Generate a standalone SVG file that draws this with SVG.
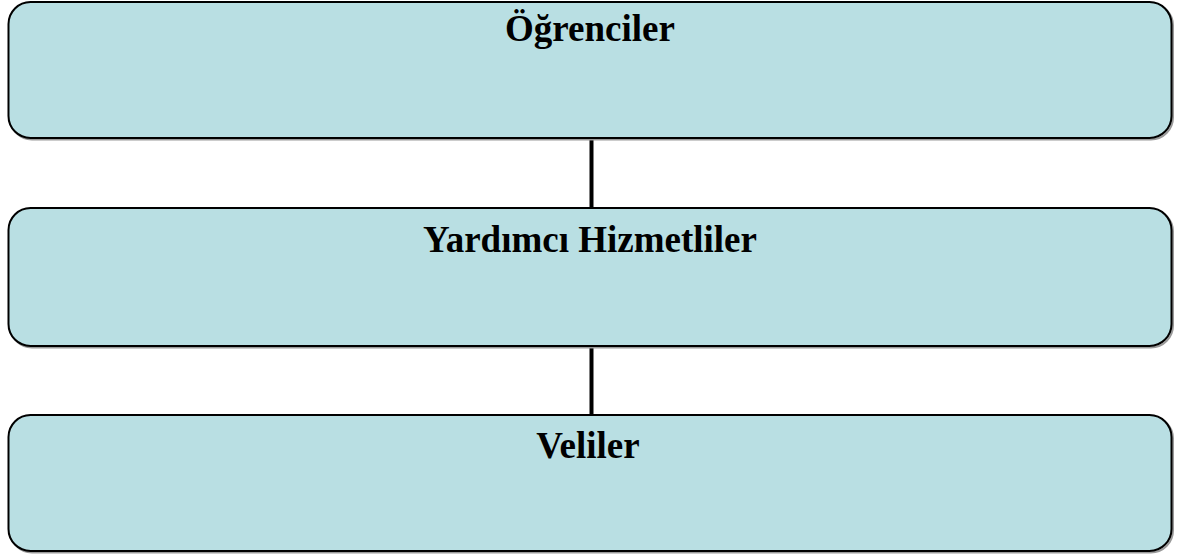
<svg xmlns="http://www.w3.org/2000/svg" width="1177" height="555" viewBox="0 0 1177 555">
<style>
.shadow{fill:none;stroke:#9a9a9a;stroke-width:2}
.box{fill:#B9DFE3;stroke:#000;stroke-width:2}
.lbl{font-family:"Liberation Serif","Times New Roman",serif;font-weight:bold;font-size:37px;fill:#000;text-anchor:middle}
.conn{stroke:#000;stroke-width:4;fill:none}
</style>
<rect width="1177" height="555" fill="#fff"/>
<g id="connectors">
<line class="conn" x1="591.5" y1="138" x2="591.5" y2="208"/>
<line class="conn" x1="591.5" y1="346" x2="591.5" y2="415"/>
</g>
<g id="node-ogrenciler">
<rect class="shadow" x="10" y="3.5" width="1163" height="136" rx="22"/>
<rect class="box" x="8.5" y="2" width="1163" height="136" rx="22"/>
<text class="lbl" x="590" y="41">Öğrenciler</text>
</g>
<g id="node-yardimci">
<rect class="shadow" x="10" y="209.5" width="1163" height="138" rx="22"/>
<rect class="box" x="8.5" y="208" width="1163" height="138" rx="22"/>
<text class="lbl" x="590" y="252">Yardımcı Hizmetliler</text>
</g>
<g id="node-veliler">
<rect class="shadow" x="10" y="416.5" width="1163" height="136" rx="22"/>
<rect class="box" x="8.5" y="415" width="1163" height="136" rx="22"/>
<text class="lbl" x="588" y="458">Veliler</text>
</g>
</svg>
